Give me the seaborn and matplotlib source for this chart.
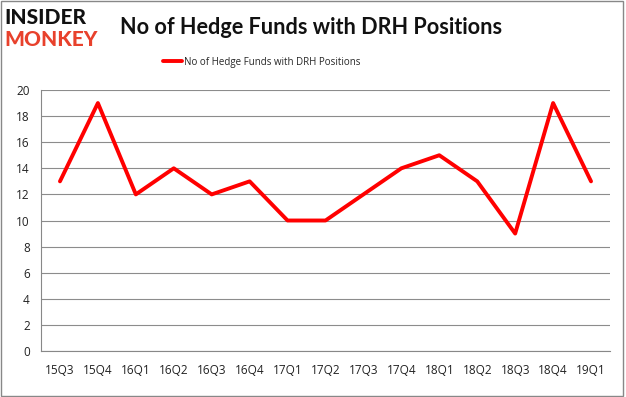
import matplotlib
matplotlib.use("Agg")
import matplotlib.pyplot as plt
import seaborn as sns
import pandas as pd
import numpy as np

quarters = ["15Q3", "15Q4", "16Q1", "16Q2", "16Q3", "16Q4", "17Q1", "17Q2",
            "17Q3", "17Q4", "18Q1", "18Q2", "18Q3", "18Q4", "19Q1"]
funds = [13, 19, 12, 14, 12, 13, 10, 10, 12, 14, 15, 13, 9, 19, 13]
series_name = "No of Hedge Funds with DRH Positions"
yticks = [0, 2, 4, 6, 8, 10, 12, 14, 16, 18, 20]

df = pd.DataFrame({"quarter": quarters, "funds": funds})
df["pos"] = np.arange(len(quarters))

sns.set_style("white")
plt.rcParams["font.family"] = ["Open Sans", "DejaVu Sans"]

fig = plt.figure(figsize=(6.26, 3.97), dpi=100)
ax = fig.add_axes([41/626, 46/397, 569/626, 261/397])

sns.lineplot(data=df, x="pos", y="funds", ax=ax, color="#ff0000",
             linewidth=2.8, label=series_name, legend=False)

ax.set_xlim(-0.5, len(quarters) - 0.5)
ax.set_ylim(0, 20)
ax.set_yticks(yticks)
ax.set_yticklabels([str(v) for v in yticks], fontsize=8.5, color="#222222")
ax.set_xticks(df["pos"])
ax.set_xticklabels(quarters, fontsize=8.5, color="#222222")
ax.set_xticks(np.arange(-0.5, len(quarters), 1.0), minor=True)
ax.tick_params(axis="x", which="major", length=0, pad=9)
ax.tick_params(axis="x", which="minor", length=4, color="#888888", width=0.8)
ax.tick_params(axis="y", length=4, color="#888888", width=0.8, pad=4)
ax.set_xlabel("")
ax.set_ylabel("")
ax.grid(axis="y", color="#8c8c8c", linewidth=0.8)
ax.set_axisbelow(True)
for s in ["top", "right"]:
    ax.spines[s].set_visible(False)
for s in ["left", "bottom"]:
    ax.spines[s].set_color("#888888")
    ax.spines[s].set_linewidth(0.8)

# legend
h, l = ax.get_legend_handles_labels()
fig.legend(h, l, loc="center", bbox_to_anchor=(262/626, 1 - 62/397),
           frameon=False, fontsize=7, handlelength=1.9, handletextpad=0.3)

# title
fig.text(120/626, 1 - 27/397, "No of Hedge Funds with DRH Positions",
         fontsize=15.6, fontweight="bold", ha="left", va="center",
         color="#111111", family=["Lato", "DejaVu Sans"])

# logo
fig.text(4/626, 1 - 18/397, "INSIDER", fontsize=15, fontweight="black",
         color="#111111", ha="left", va="center", family=["Lato", "DejaVu Sans"])
fig.text(4/626, 1 - 40/397, "MONKEY", fontsize=15, fontweight="black",
         color="#e8412c", ha="left", va="center", family=["Lato", "DejaVu Sans"])

# border
fig.patches.append(plt.Rectangle((0.002, 0.003), 0.994, 0.994, transform=fig.transFigure,
                                 fill=False, edgecolor="#888888", linewidth=1))

fig.savefig("out.png", dpi=100)
